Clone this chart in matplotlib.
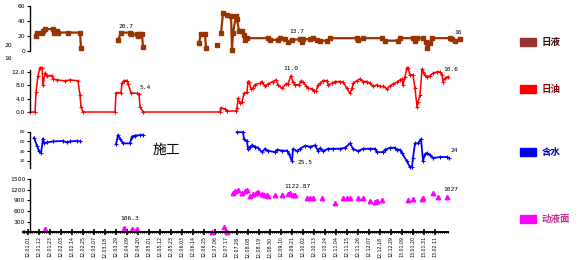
import numpy as np
import matplotlib
matplotlib.use("Agg")
import matplotlib.pyplot as plt
from matplotlib.ticker import FixedLocator, MultipleLocator
import datetime as dt

plt.rcParams['font.family'] = ['DejaVu Sans', 'Noto Sans CJK SC']
nan = np.nan

# ---------------- data ----------------
# day index (1 day per unit), gaps as nan
liq_x = [8, 9, 14, 15, 17, 25, 26, 29, 30, 40, 52, 53, nan,
         90, 93, 102, 103, 109, 110, 111, 114, 115, nan,
         171, 173, 177, 178, nan, 189, nan,
         193, 195, 199, 203, 204, 205, 208, 209, 211, 214, 216, 217, 219,
         240, 242, 250, 252, 257, 260, 264, 272, 274, 275, 282, 285, 289, 292,
         299, 302, 329, 330, 335, 354, 357, 370, 372, 385, 387, 389, 395, 398,
         399, 402, 404, 422, 424, 427, 432]
liq_y = [19.6, 24.4, 24.4, 27, 29, 29, 24.4, 27, 24.4, 24.5, 24.4, 4.4, nan,
         14.2, 24.4, 24.4, 22, 22, 20, 22, 22, 5.8, nan,
         11, 22.5, 22.5, 4, nan, 8.4, nan,
         23.5, 50, 48, 47, 1.3, 24, 47, 42, 27, 26, 21, 14.7, 17,
         17, 14.7, 14.7, 17, 15.6, 12.4, 14.7, 15.6, 12.4, 15.6, 15.6, 17, 14.7, 13.7,
         13.7, 17, 17, 14.7, 17, 17, 13.7, 13.7, 17, 17, 13.7, 17, 17, 12.4,
         4.4, 11, 17, 17, 15.6, 13.7, 15.6]

oil_x = [2, 7, 8, 10, 12, 14, 15, 17, 19, 24, 25, 29, 37, 42, 50, 52, 53, 55,
         87, 88, 93, 94, 96, 99, 100, 103, 109, 111, 112, 115,
         192, 193, 197, 199, 208, 209, 210, 212, 214, 216, 219, 220, 221, 223,
         225, 227, 232, 234, 237, 240, 245, 248, 250, 254, 258, 260, 263, 265,
         267, 271, 273, 275, 278, 280, 284, 286, 288, 290, 292, 295, 299, 300,
         304, 307, 312, 315, 319, 322, 324, 325, 329, 332, 335, 339, 342, 345,
         349, 352, 355, 359, 362, 365, 369, 372, 374, 375, 377, 379, 380, 382,
         385, 387, 389, 390, 392, 394, 395, 397, 399, 402, 405, 409, 412, 414,
         415, 417, 420]
oil_y = [0, 0, 5.9, 11, 13.4, 13.4, 8, 11.7, 11, 11, 10, 9.7, 9.4, 9.7, 9.4, 5.1, 1.4, 0,
         0, 5.8, 5.8, 8.7, 9.5, 9.5, 8.4, 5.8, 5.6, 5.3, 1.6, 0,
         0, 1.3, 0.9, 0.3, 0.3, 1.1, 4.1, 2.6, 3.1, 5.6, 5.9, 9.2, 9.2, 7,
         7.2, 8.2, 8.7, 9.2, 7.7, 8.5, 9.2, 9.7, 8.2, 7.1, 8.5, 8.5, 11, 9,
         8.2, 8.2, 9.4, 9, 7.9, 7.2, 7, 6.3, 6.2, 8.2, 8.7, 9.5, 9.5, 8.2,
         8.7, 9.2, 9.2, 9, 7.1, 5.6, 7.1, 8.7, 9.5, 10, 9.2, 9.2, 8.7, 7.7,
         8.2, 7.7, 7.7, 7, 7.9, 8.5, 9, 9.7, 10, 8.2, 10.7, 13.4, 13.4, 11.2,
         11.2, 7.1, 1.6, 3.1, 5.1, 13, 12, 11.2, 10.5, 11, 11.7, 12.1, 12.1, 11.2,
         9.2, 10.2, 10.7]

wc_x = [6, 9, 11, 13, 15, 16, 19, 25, 35, 39, 42, 49, 52, nan,
        88, 90, 92, 95, 102, 104, 107, 112, 115, nan,
        209, 215, 216, 219, 220, 222, 224, 227, 230, 234, 237, 240, 247, 249,
        254, 259, 261, 264, 265, 269, 272, 277, 282, 287, 290, 292, 295, 300,
        305, 312, 317, 322, 325, 330, 335, 342, 347, 349, 355, 357, 362, 367,
        369, 372, 374, 379, 382, 384, 385, 387, 390, 393, 395, 397, 399, 402,
        405, 412, 419, 421]
wc_y = [68, 51, 40, 36, 66, 56, 58, 60, 61, 58, 60, 61, 60, nan,
        54, 73, 66, 56, 56, 70, 72, 73, 73, nan,
        79, 79, 65, 60, 45, 49, 52, 49, 47, 38, 45, 41, 38, 43,
        41, 41, 34, 19, 45, 40, 45, 51, 49, 52, 41, 46, 40, 45,
        45, 45, 47, 56, 45, 40, 45, 45, 45, 38, 38, 43, 47, 47,
        43, 43, 36, 19, 7, 8, 26, 56, 56, 65, 20, 34, 36, 32,
        26, 28, 28, 25]

dfl_x = [17, 96, 104, 109, 184, 196, 199,
         205, 207, 210, 214, 217, 219, 222, 225, 228, 230, 234, 236, 239, 240,
         247, 254, 260, 262, 265, 267, 279, 282, 285, 294, 307, 315, 319, 322,
         330, 335, 342, 347, 349, 354, 380, 385, 394, 395, 405, 410, 419]
dfl_y = [85, 130, 100, 100, 20, 160, 20,
         1100, 1150, 1200, 1100, 1150, 1200, 1030, 1070, 1100, 1130, 1070, 1060, 1050, 1030,
         1050, 1050, 1080, 1100, 1060, 1050, 960, 960, 960, 960, 820, 960, 960, 960,
         960, 960, 880, 850, 870, 910, 910, 930, 930, 970, 1100, 1000, 1000]

# value labels: (x, y, text)
liq_labels = [(98, 33, "20.7"), (269, 26, "13.7"), (430, 25, "16")]
oil_labels = [(117, 7.5, "5.4"), (263, 13.2, "11.0"), (423, 12.7, "10.6")]
wc_labels = [(277, 16, "25.5"), (426, 40.5, "24")]
dfl_labels = [(102, 395, "106.3"), (269, 1290, "1122.87"), (423, 1195, "1027")]

start_date = dt.date(2012, 1, 1)
tick_days = list(range(0, 408, 11))
tick_labels = [(start_date + dt.timedelta(days=d)).strftime("%y.%m.%d") for d in tick_days]

legend_names = ["日液", "日油", "含水", "动液面"]
legend_colors = ["#993333", "#ff0000", "#0000ff", "#ff00ff"]
legend_text_colors = ["#3a0a0a", "#8a0000", "#0000b0", "#c0309a"]

# ---------------- figure ----------------
W, H = 588, 260
fig = plt.figure(figsize=(W / 100, H / 100), dpi=100)

def px_axes(left, top, right, bottom):
    ax = fig.add_axes([left / W, 1 - bottom / H, (right - left) / W, (bottom - top) / H])
    ax.patch.set_alpha(0)
    for s in ['top', 'right', 'bottom']:
        ax.spines[s].set_visible(False)
    ax.spines['left'].set_position(('data', 2))
    ax.spines['left'].set_linewidth(1.0)
    ax.tick_params(axis='y', length=2, width=0.8, pad=1.5, labelsize=4.3)
    ax.set_xticks([])
    return ax

def add_labels(ax, labels, fs=4.5):
    for x, y, t in labels:
        ax.text(x, y, t, fontsize=fs, ha='center', va='center', color='black',
                family='DejaVu Sans Mono')

# Panel 1: daily liquid
ax1 = px_axes(23, 5.7, 462, 51)
ax1.set_xlim(-5, 434)
ax1.set_ylim(0, 60)
ax1.set_yticks([0, 20, 40, 60])
ax1.plot(liq_x, liq_y, color='#993300', lw=1.6, marker='s', ms=2.2, clip_on=False)
add_labels(ax1, liq_labels)

# Panel 2: daily oil
ax2 = px_axes(23, 45.7, 448, 112)
ax2.set_xlim(-5, 420)
ax2.set_ylim(0, 20)
ax2.set_yticks([0, 4, 8, 12])
ax2.set_yticklabels(['0.0', '4.0', '8.0', '12.0'])
ax2.spines['left'].set_bounds(0, 12.6)
ax2.plot(oil_x, oil_y, color='#ff0000', lw=1.1, marker='+', ms=3.5, mew=0.8, clip_on=False)
add_labels(ax2, oil_labels)
fig.text(8 / W, 1 - 45.5 / H, "20", fontsize=4.3, ha='center', va='center')
fig.text(8 / W, 1 - 59 / H, "16", fontsize=4.3, ha='center', va='center')

# Panel 3: water cut
ax3 = px_axes(23, 131.7, 448, 167.7)
ax3.set_xlim(-5, 420)
ax3.set_ylim(6, 80)
ax3.set_yticks([20, 40, 60, 80])
ax3.tick_params(axis='y', labelsize=3.2)
ax3.plot(wc_x, wc_y, color='#0000ff', lw=1.3, marker='+', ms=3, mew=0.8, clip_on=False)
add_labels(ax3, wc_labels)
ax3.text(138, 42.5, "施工", fontsize=10, ha='center', va='center',
         family=['Noto Sans CJK SC', 'DejaVu Sans'])

# Panel 4: dynamic fluid level
ax4 = px_axes(23, 179, 448, 232.3)
ax4.set_xlim(-5, 420)
ax4.set_ylim(0, 1500)
ax4.set_yticks([0, 300, 600, 900, 1200, 1500])
ax4.plot(dfl_x, dfl_y, color='#ff00ff', ls='none', marker='^', ms=3.2, clip_on=False)
add_labels(ax4, dfl_labels)
ax4.spines['bottom'].set_visible(True)
ax4.spines['bottom'].set_linewidth(1.4)
ax4.xaxis.set_major_locator(FixedLocator(tick_days))
ax4.set_xticklabels(tick_labels, rotation=90, fontsize=3.4)
ax4.xaxis.set_minor_locator(MultipleLocator(2))
ax4.tick_params(axis='x', which='major', length=4, width=1.2, direction='inout', pad=1)
ax4.tick_params(axis='x', which='minor', length=2, width=0.8, direction='inout')

# Legend (manual, figure coordinates)
leg_rows = [42, 89, 152, 219]
for yc, name, pc, tc in zip(leg_rows, legend_names, legend_colors, legend_text_colors):
    fig.patches.append(plt.Rectangle((520 / W, 1 - (yc + 3.7) / H), 16 / W, 7.5 / H,
                                     transform=fig.transFigure, color=pc, figure=fig))
    fig.text(542 / W, 1 - yc / H, name, fontsize=6.8, fontweight='bold', color=tc,
             ha='left', va='center', family=['Noto Sans CJK SC', 'DejaVu Sans'])

fig.savefig("out.png", dpi=100)
